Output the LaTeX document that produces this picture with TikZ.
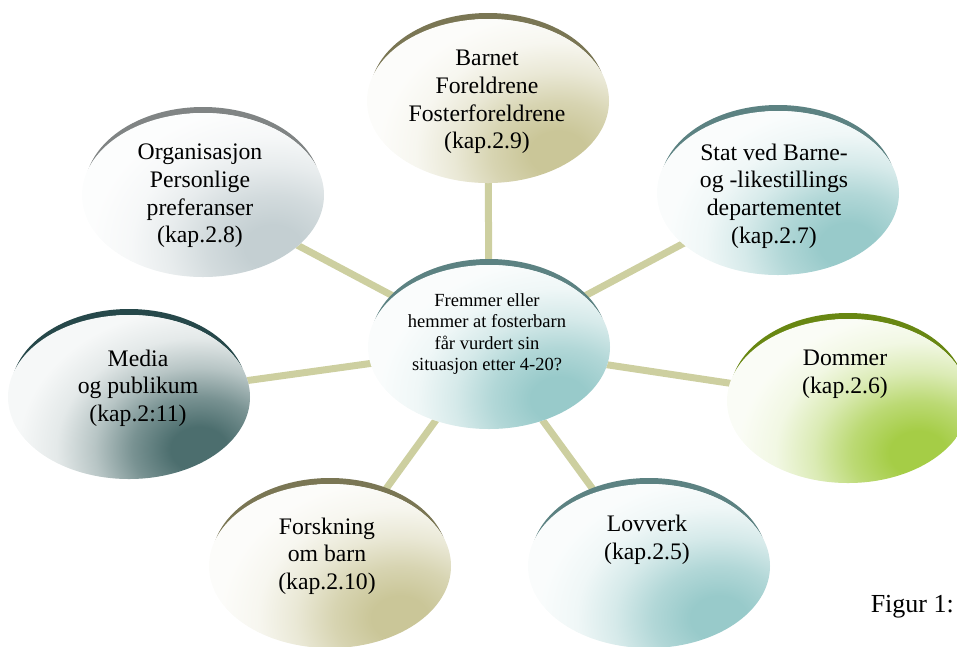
\documentclass[tikz,border=0pt]{standalone}
\usepackage{fontspec}
\setmainfont{Liberation Serif}
\usetikzlibrary{shapes.geometric,backgrounds}

\definecolor{oliveRim}{RGB}{122,118,84}
\definecolor{oliveC}{RGB}{202,198,152}
\definecolor{tealRim}{RGB}{92,130,130}
\definecolor{tealC}{RGB}{152,202,202}
\definecolor{greyRim}{RGB}{128,132,132}
\definecolor{greyC}{RGB}{196,207,210}
\definecolor{slateRim}{RGB}{38,72,74}
\definecolor{slateC}{RGB}{76,110,110}
\definecolor{greenRim}{RGB}{104,135,18}
\definecolor{greenC}{RGB}{165,205,70}
\definecolor{connC}{RGB}{205,207,160}

% the shaded ellipse's radius corresponds to 25bp
\newcommand{\hotshade}[2]{%
  \pgfdeclareradialshading{#1}{\pgfpoint{0bp}{0bp}}{color(0bp)=(#2); color(3.75bp)=(#2); color(8.75bp)=(#2!75!white); color(13.75bp)=(#2!40!white); color(18.75bp)=(#2!15!white); color(23.75bp)=(#2!5!white); color(50bp)=(#2!5!white)}}
\hotshade{hotOlive}{oliveC}
\hotshade{hotTeal}{tealC}
\hotshade{hotGrey}{greyC}
\hotshade{hotSlate}{slateC}
\hotshade{hotGreen}{greenC}

\tikzset{
  bub/.style={ellipse, minimum width=242pt, minimum height=164pt, inner sep=0pt, draw=none, fill=#1!5!white},
  txt/.style={align=center, font=\fontsize{23.7}{27.7}\selectfont, inner sep=0pt},
  ctxt/.style={align=center, font=\fontsize{18.5}{21.3}\selectfont, inner sep=0pt},
  figtxt/.style={font=\fontsize{26}{30}\selectfont, inner sep=0pt},
  conn/.style={draw=connC, line width=7pt}
}

% name, position, rim colour, base colour, shading
\newcommand{\bubble}[5]{%
  \fill[#3] ([yshift=6pt]#2) ellipse [x radius=118, y radius=82];
  \node[bub=#4] (#1) at (#2) {};
  \begin{scope}
    \clip (#2) ellipse [x radius=121, y radius=82];
    \shade[shading=#5] ([shift={(70,52)}]#2) ellipse [x radius=190, y radius=148];
  \end{scope}
}

\begin{document}
\begin{tikzpicture}[x=1pt, y=-1pt]
\useasboundingbox (0,0) rectangle (957,646);
\clip (0,0) rectangle (957,646);

\bubble{B}{488,101}{oliveRim}{oliveC}{hotOlive}
\bubble{O}{203,195}{greyRim}{greyC}{hotGrey}
\bubble{S}{778,193}{tealRim}{tealC}{hotTeal}
\bubble{M}{129,397}{slateRim}{slateC}{hotSlate}
\bubble{D}{848,401}{greenRim}{greenC}{hotGreen}
\bubble{F}{330,566}{oliveRim}{oliveC}{hotOlive}
\bubble{L}{649,566}{tealRim}{tealC}{hotTeal}
\bubble{C}{489,347}{tealRim}{tealC}{hotTeal}

\begin{scope}[on background layer]
  \draw[conn] (C.center) -- (B.center);
  \draw[conn] (C.center) -- (O.center);
  \draw[conn] (C.center) -- (S.center);
  \draw[conn] (C.center) -- (M.center);
  \draw[conn] (C.center) -- (D.center);
  \draw[conn] (C.center) -- (F.center);
  \draw[conn] (C.center) -- (L.center);
\end{scope}

\node[txt] (tB) at (487,102) {Barnet\\Foreldrene\\Fosterforeldrene\\(kap.2.9)};
\node[txt] (tO) at (200,196) {Organisasjon\\Personlige\\preferanser\\(kap.2.8)};
\node[txt] (tS) at (774,196) {Stat ved Barne-\\og -likestillings\\departementet\\(kap.2.7)};
\node[txt] (tM) at (138,388) {Media\\og publikum\\(kap.2:11)};
\node[txt] (tD) at (845,374) {Dommer\\(kap.2.6)};
\node[txt] (tF) at (327,556) {Forskning\\om barn\\(kap.2.10)};
\node[txt] (tL) at (647,540) {Lovverk\\(kap.2.5)};
\node[ctxt] (tC) at (487,334) {Fremmer eller\\hemmer at fosterbarn\\får vurdert sin\\situasjon etter 4-20?};
\node[figtxt, anchor=east] (fig) at (954,607) {Figur 1:};
\end{tikzpicture}
\end{document}
